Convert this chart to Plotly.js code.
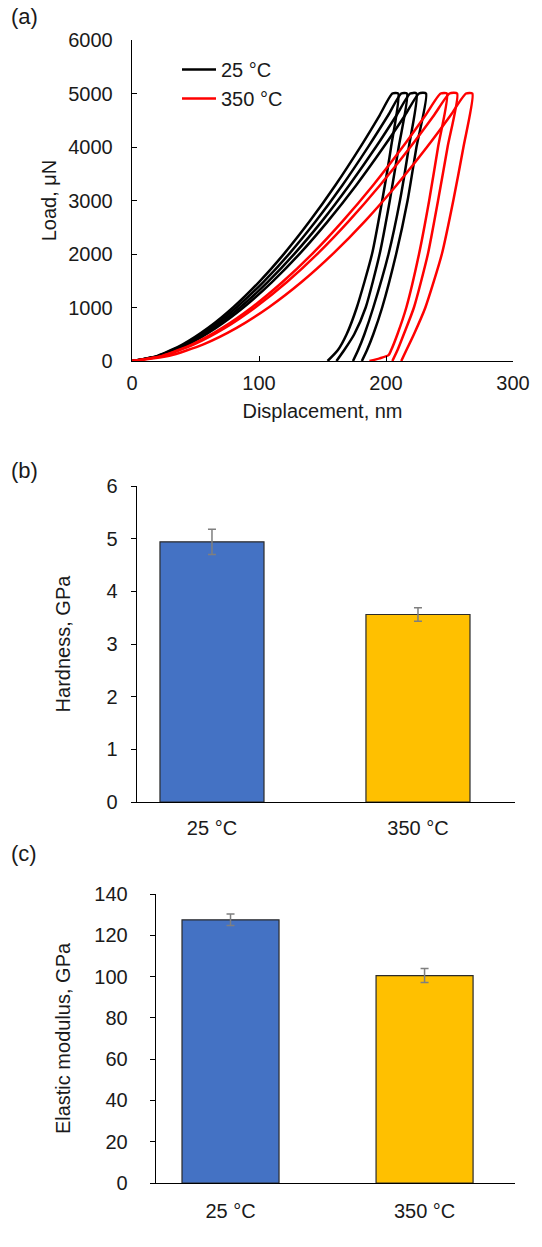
<!DOCTYPE html>
<html><head><meta charset="utf-8">
<script src="https://cdn.plot.ly/plotly-3.0.1.min.js"></script>
<style>html,body{margin:0;padding:0;background:#fff}#chart{width:542px;height:1247px}</style>
</head><body><div id="chart"></div>
<script>
// ---- Panel (a): load-displacement curves ----
// 25 °C (black), four indents
const b1Disp = [0, 20, 40, 60, 80, 100, 120, 140, 160, 180, 195, 205, 209.6, 204, 197, 189, 177, 169, 162, 154];
const b1Load = [0, 96, 311, 619, 1010, 1476, 2012, 2615, 3281, 4008, 4593, 5000, 5000, 4000, 3000, 2000, 1000, 500, 200, 0];
const b2Disp = [0, 20.7, 41.4, 62.0, 82.7, 103.4, 124.1, 144.8, 165.5, 186.1, 201.7, 212, 216.5, 210, 203, 195, 184, 175, 167, 161];
const b2Load = [0, 96, 311, 619, 1010, 1476, 2012, 2615, 3281, 4008, 4593, 5000, 5000, 4000, 3000, 2000, 1000, 500, 200, 0];
const b3Disp = [0, 21.4, 42.7, 64.1, 85.5, 106.8, 128.2, 149.6, 170.9, 192.3, 208.3, 219, 224, 218, 211, 202, 190, 183, 178, 174];
const b3Load = [0, 96, 311, 619, 1010, 1476, 2012, 2615, 3281, 4008, 4593, 5000, 5000, 4000, 3000, 2000, 1000, 500, 200, 0];
const b4Disp = [0, 22.0, 44.1, 66.1, 88.2, 110.2, 132.3, 154.3, 176.4, 198.4, 215.0, 226, 231.5, 224, 217, 208, 197, 190, 185, 181];
const b4Load = [0, 96, 311, 619, 1010, 1476, 2012, 2615, 3281, 4008, 4593, 5000, 5000, 4000, 3000, 2000, 1000, 500, 200, 0];
// 350 °C (red), three indents
const r1Disp = [0, 23.7, 47.4, 71.1, 94.8, 118.5, 142.3, 165.9, 189.7, 213.4, 231.1, 243, 248, 241, 234, 226, 216, 209, 204, 202, 195, 187];
const r1Load = [0, 96, 311, 619, 1010, 1476, 2012, 2615, 3281, 4008, 4593, 5000, 5000, 4000, 3000, 2000, 1000, 500, 200, 110, 50, 0];
const r2Disp = [0, 24.4, 48.8, 73.2, 97.5, 122.0, 146.4, 170.7, 195.1, 219.5, 237.8, 250, 256, 248.5, 241, 233, 222, 214, 209, 205];
const r2Load = [0, 96, 311, 619, 1010, 1476, 2012, 2615, 3281, 4008, 4593, 5000, 5000, 4000, 3000, 2000, 1000, 500, 200, 0];
const r3Disp = [0, 29.3, 56.2, 82.4, 108.1, 133.5, 158.6, 183.5, 208.1, 232.6, 250.9, 263, 268, 261, 253, 244, 231, 222, 216, 212];
const r3Load = [0, 96, 311, 619, 1010, 1476, 2012, 2615, 3281, 4008, 4593, 5000, 5000, 4000, 3000, 2000, 1000, 500, 200, 0];

// ---- Panels (b) and (c): bar charts ----
const categories = ['25 °C', '350 °C'];
const hardness = [4.94, 3.56];
const hardnessErr = [0.24, 0.13];
const modulus = [127.5, 100.5];
const modulusErr = [2.8, 3.4];
const barColors = ['#4472C4', '#FFC000'];

const FONT = 'Liberation Sans, Arial, sans-serif';
const FS = 20;
const TXT = '#1a1a1a';

function curve(x, y, color, name, show) {
  return {x: x, y: y, type: 'scatter', mode: 'lines', xaxis: 'x', yaxis: 'y',
    line: {color: color, width: 2.5, shape: 'spline', smoothing: 0.6},
    name: name, legendgroup: name, showlegend: show};
}

const traces = [
  curve(b1Disp, b1Load, '#000000', '25 °C', true),
  curve(b2Disp, b2Load, '#000000', '25 °C', false),
  curve(b3Disp, b3Load, '#000000', '25 °C', false),
  curve(b4Disp, b4Load, '#000000', '25 °C', false),
  curve(r1Disp, r1Load, '#FF0000', '350 °C', true),
  curve(r2Disp, r2Load, '#FF0000', '350 °C', false),
  curve(r3Disp, r3Load, '#FF0000', '350 °C', false),
  {x: [0, 1], y: hardness, type: 'bar', xaxis: 'x2', yaxis: 'y2', width: 0.505, showlegend: false,
    marker: {color: barColors, line: {color: '#2b2b2b', width: 1.2}},
    error_y: {type: 'data', array: hardnessErr, visible: true, color: '#7f7f7f', thickness: 1.5, width: 4}},
  {x: [0, 1], y: modulus, type: 'bar', xaxis: 'x3', yaxis: 'y3', width: 0.5, showlegend: false,
    marker: {color: barColors, line: {color: '#2b2b2b', width: 1.2}},
    error_y: {type: 'data', array: modulusErr, visible: true, color: '#7f7f7f', thickness: 1.5, width: 4}}
];

const W = 542, H = 1247;
function dx(a, b) { return [a / W, b / W]; }
function dy(top, bottom) { return [1 - bottom / H, 1 - top / H]; }

const axBase = {showline: true, linecolor: '#000', linewidth: 1.3, showgrid: false, zeroline: false,
  tickfont: {family: FONT, size: FS, color: TXT}, tickcolor: '#000'};

const layout = {
  width: W, height: H, margin: {l: 0, r: 0, t: 0, b: 0},
  paper_bgcolor: '#fff', plot_bgcolor: '#fff',
  font: {family: FONT, size: FS, color: TXT},
  showlegend: true,
  legend: {x: 177 / W, y: 1 - 50 / H, xanchor: 'left', yanchor: 'top', bgcolor: 'rgba(0,0,0,0)',
    font: {family: FONT, size: FS, color: TXT}, tracegroupgap: 0, itemwidth: 34},
  xaxis: Object.assign({}, axBase, {domain: dx(132, 513), range: [0, 300], dtick: 100, ticks: 'inside', ticklen: 5,
    anchor: 'y', ticklabelstandoff: 4, title: {text: 'Displacement, nm', font: {family: FONT, size: FS, color: TXT}, standoff: 10}}),
  yaxis: Object.assign({}, axBase, {domain: dy(40, 361), range: [0, 6000], dtick: 1000, ticks: 'inside', ticklen: 5,
    anchor: 'x', ticklabelstandoff: 14, title: {text: 'Load, μN', font: {family: FONT, size: FS, color: TXT}, standoff: 6}}),
  xaxis2: Object.assign({}, axBase, {domain: dx(137, 515), range: [-0.364, 1.471], anchor: 'y2',
    tickvals: [0, 1], ticktext: categories, ticks: '', ticklabelstandoff: 8}),
  yaxis2: Object.assign({}, axBase, {domain: dy(486, 802), range: [0, 6], dtick: 1, ticks: 'outside', ticklen: 5,
    anchor: 'x2', ticklabelstandoff: 9, title: {text: 'Hardness, GPa', font: {family: FONT, size: FS, color: TXT}, standoff: 30}}),
  xaxis3: Object.assign({}, axBase, {domain: dx(156, 515), range: [-0.384, 1.466], anchor: 'y3',
    tickvals: [0, 1], ticktext: categories, ticks: '', ticklabelstandoff: 10}),
  yaxis3: Object.assign({}, axBase, {domain: dy(894, 1183), range: [0, 140], dtick: 20, ticks: 'outside', ticklen: 5,
    anchor: 'x3', ticklabelstandoff: 18, title: {text: 'Elastic modulus, GPa', font: {family: FONT, size: FS, color: TXT}, standoff: 18}}),
  annotations: [
    {text: '(a)', xref: 'paper', yref: 'paper', x: 9 / W, y: 1 - 16 / H, xanchor: 'left', yanchor: 'middle', showarrow: false, font: {family: FONT, size: 22, color: TXT}},
    {text: '(b)', xref: 'paper', yref: 'paper', x: 9 / W, y: 1 - 470 / H, xanchor: 'left', yanchor: 'middle', showarrow: false, font: {family: FONT, size: 22, color: TXT}},
    {text: '(c)', xref: 'paper', yref: 'paper', x: 9 / W, y: 1 - 853 / H, xanchor: 'left', yanchor: 'middle', showarrow: false, font: {family: FONT, size: 22, color: TXT}}
  ]
};

Plotly.newPlot('chart', traces, layout, {displayModeBar: false, staticPlot: true});
</script></body></html>
